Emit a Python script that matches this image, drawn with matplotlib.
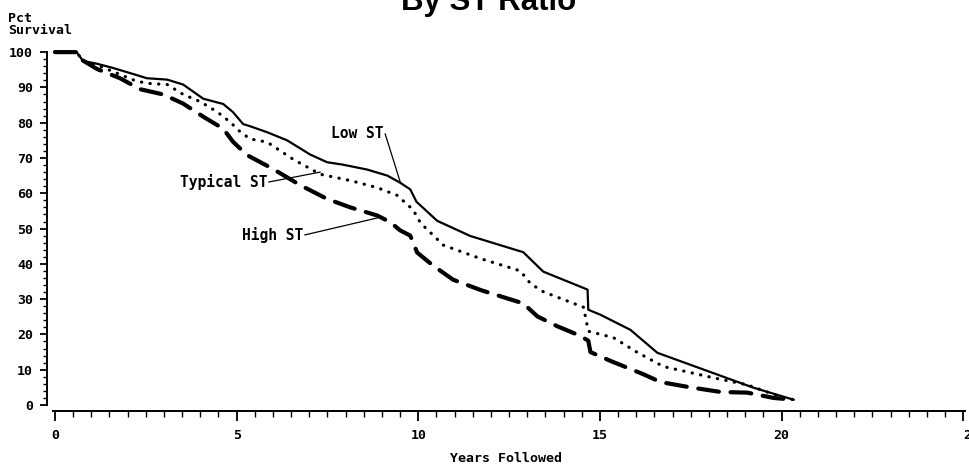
"""Survival curves by ST ratio group (Low / Typical / High ST)."""

import matplotlib

matplotlib.use("Agg")
import matplotlib.pyplot as plt
from matplotlib.ticker import MultipleLocator

# Low ST (solid)
low_years = [0, 0.6, 0.63, 0.77, 1.16, 1.6, 2.15, 2.53, 3.09, 3.53, 4.08, 4.63, 4.9, 5.18, 5.37,
             5.84, 6.39, 7.02, 7.49, 7.93, 8.6, 9.15, 9.5, 9.78, 9.95, 10.52, 11.43, 12.89,
             13.44, 14.66, 14.68, 15.01, 15.84, 16.58, 17.49, 19.23, 20.33]
low_pct = [100, 100, 99.5, 97.5, 96.7, 95.5, 93.8, 92.6, 92.2, 90.8, 86.8, 85.3, 83.0, 79.6, 79.0,
           77.3, 75.0, 71.0, 68.8, 68.1, 66.7, 65.0, 63.0, 61.1, 57.6, 52.2, 47.9, 43.3,
           37.8, 32.7, 27.0, 25.6, 21.3, 14.8, 11.4, 4.9, 1.5]

# Typical ST (dotted)
typ_years = [0, 0.6, 0.63, 0.77, 1.24, 1.71, 2.26, 2.62, 3.09, 3.53, 3.99, 4.46, 4.82, 5.1, 5.37,
             5.84, 6.56, 7.3, 8.13, 8.87, 9.42, 9.86, 10.06, 10.69, 11.71, 12.81, 13.09,
             13.44, 14.55, 14.68, 15.37, 16.03, 16.75, 18.13, 19.06, 19.97, 20.33]
typ_pct = [100, 100, 99.5, 97.5, 96.0, 94.0, 91.7, 91.1, 90.8, 88.0, 86.0, 83.1, 80.2, 77.4, 75.4,
           74.5, 69.6, 65.4, 63.6, 61.6, 59.4, 55.3, 51.6, 45.3, 41.5, 38.0, 34.4,
           32.1, 27.7, 20.9, 19.1, 14.9, 10.9, 7.7, 5.7, 2.3, 1.5]

# High ST (dashed)
high_years = [0, 0.6, 0.69, 1.16, 1.79, 2.34, 2.98, 3.53, 4.08, 4.63, 4.9, 5.29, 6.0, 6.75, 7.49,
              8.13, 8.87, 9.23, 9.5, 9.78, 9.97, 10.41, 10.96, 11.71, 12.45, 12.89, 13.28,
              13.83, 14.46, 14.68, 14.74, 15.29, 16.2, 16.67, 17.49, 18.32, 19.06, 19.78, 20.33]
high_pct = [100, 100, 98.1, 95.2, 92.6, 89.5, 88.0, 85.4, 81.7, 78.3, 74.6, 70.8, 66.9, 62.3, 58.4,
            56.0, 53.7, 51.8, 49.5, 48.0, 43.2, 39.5, 35.5, 32.6, 30.2, 28.8, 25.1,
            22.3, 19.6, 18.2, 15.0, 12.5, 8.7, 6.5, 5.0, 3.7, 3.5, 2.0, 1.5]

x_ticks = [0, 5, 10, 15, 20, 25]
y_ticks = [0, 10, 20, 30, 40, 50, 60, 70, 80, 90, 100]

# label text, text anchor (right end), arrow point on curve
labels = [
	("Low ST", (9.04, 76.8), (9.5, 63.3)),
	("Typical ST", (5.84, 63.2), (7.3, 66.0)),
	("High ST", (6.83, 48.2), (8.87, 53.0)),
]

MONO = "DejaVu Sans Mono"


def main(output_path: str = "out.png") -> None:
	fig = plt.figure(figsize=(9.7, 4.68), dpi=100)
	ax = fig.add_axes([47 / 970, 1 - 411 / 468, 918 / 970, 361 / 468])

	ax.plot(low_years, low_pct, color="black", lw=1.6, solid_joinstyle="round")
	ax.plot(typ_years, typ_pct, color="black", lw=2.3, linestyle=(0, (0.1, 2.6)),
	        dash_capstyle="round")
	ax.plot(high_years, high_pct, color="black", lw=3.0, linestyle=(0, (5, 2.8)),
	        dash_capstyle="round")

	for text, (tx, ty), (px, py) in labels:
		ax.text(tx, ty, text, ha="right", va="center", family=MONO, weight="bold", fontsize=10.5)
		ax.plot([tx + 0.05, px], [ty, py], color="black", lw=0.9)

	ax.set_xlim(-0.22, 25.05)
	ax.set_ylim(-1.7, 100.6)
	ax.spines["top"].set_visible(False)
	ax.spines["right"].set_visible(False)
	ax.spines["left"].set_bounds(0, 100)
	ax.spines["bottom"].set_bounds(-0.05, 25.05)
	for side in ("left", "bottom"):
		ax.spines[side].set_linewidth(1.4)

	ax.set_xticks(x_ticks)
	ax.set_yticks(y_ticks)
	ax.xaxis.set_minor_locator(MultipleLocator(0.5))
	ax.yaxis.set_minor_locator(MultipleLocator(2))
	ax.tick_params(axis="x", which="major", length=7, width=1.3, pad=6)
	ax.tick_params(axis="x", which="minor", length=4, width=1.0)
	ax.tick_params(axis="y", which="major", length=5, width=1.3, pad=5)
	ax.tick_params(axis="y", which="minor", length=3, width=1.0)
	for lab in ax.get_xticklabels() + ax.get_yticklabels():
		lab.set_family(MONO)
		lab.set_weight("bold")
		lab.set_fontsize(9.5)
	ax.get_xticklabels()[-1].set_horizontalalignment("left")

	ax.set_xlabel("Years Followed", family=MONO, weight="bold", fontsize=9.5, labelpad=7)

	fig.text(8 / 970, 1 - 18 / 468, "Pct", family=MONO, weight="bold", fontsize=9.5,
	         ha="left", va="center")
	fig.text(8 / 970, 1 - 31 / 468, "Survival", family=MONO, weight="bold", fontsize=9.5,
	         ha="left", va="center")
	fig.text(489 / 970, 1 - 10 / 468, "By ST Ratio", family="Liberation Sans", weight="bold",
	         fontsize=22.5, ha="center", va="baseline")

	fig.savefig(output_path, dpi=100)
	plt.close(fig)


if __name__ == "__main__":
	main()
